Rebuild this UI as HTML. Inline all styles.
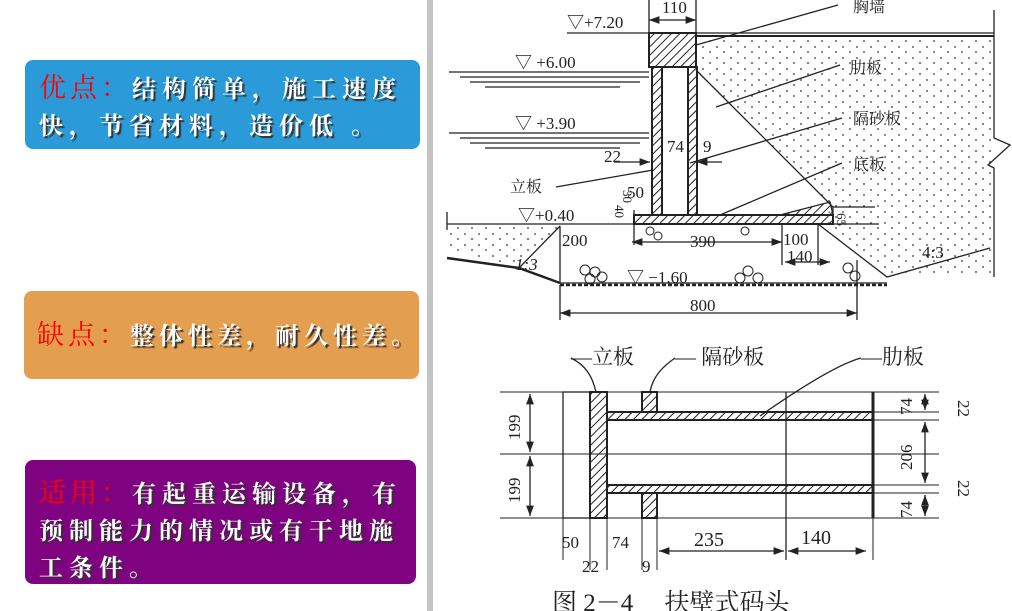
<!DOCTYPE html>
<html><head><meta charset="utf-8"><style>
html,body{margin:0;padding:0;background:#fff;width:1012px;height:611px;overflow:hidden;position:relative}
.box{position:absolute;border-radius:8px;color:#fff;font-family:"Liberation Serif","Noto Serif CJK SC",serif;font-weight:bold;font-size:24px;line-height:37px;letter-spacing:6px;text-shadow:2px 2px 1px #333;box-sizing:border-box;padding:0 0 0 14px;white-space:nowrap}
.r{color:#f00;text-shadow:none;font-size:27px;font-weight:normal;letter-spacing:4px}
#div{position:absolute;left:427px;top:0;width:6px;height:611px;background:#c4c4c4}
svg{position:absolute;left:0;top:0}
svg text{font-family:"Liberation Serif","Noto Serif CJK SC",serif;fill:#222}
</style></head><body>
<div class="box" style="left:25px;top:60px;width:395px;height:89px;background:#2a9bd8;padding-top:10px"><span class="r">优点：</span>结构简单，施工速度<br>快，节省材料，造价低 。</div>
<div class="box" style="left:24px;top:291px;width:395px;height:88px;background:#e49e50;padding-top:26px;padding-left:13px;letter-spacing:5px"><span class="r">缺点：</span>整体性差，耐久性差。</div>
<div class="box" style="left:25px;top:460px;width:391px;height:124px;background:#7f0280;padding-top:15px"><span class="r">适用：</span>有起重运输设备，有<br>预制能力的情况或有干地施<br>工条件。</div>
<div id="div"></div>
<svg width="1012" height="611" viewBox="0 0 1012 611">
<defs>
<pattern id="h" width="6" height="6" patternUnits="userSpaceOnUse" patternTransform="rotate(45)"><line x1="0" y1="0" x2="0" y2="6" stroke="#222" stroke-width="2"/></pattern>
<pattern id="d" width="14" height="11" patternUnits="userSpaceOnUse"><circle cx="3" cy="3" r="0.9" fill="#333"/><circle cx="10" cy="8" r="0.9" fill="#333"/></pattern>
<marker id="a" markerWidth="8" markerHeight="6" refX="8" refY="3" orient="auto-start-reverse"><path d="M0,0L8,3L0,6z" fill="#222"/></marker>
</defs>
<g stroke="#222" stroke-width="1.3" fill="none">
<path d="M696,36 L994,36 L994,277 L887,277 L818,224 L833,207 L696,70 Z" fill="url(#d)" stroke="none"/>
<path d="M447,226 L560,226 L519,268 L447,250 Z" fill="url(#d)" stroke="none"/>
<line x1="567" y1="33" x2="994" y2="33"/><line x1="696" y1="36" x2="994" y2="36" stroke-width="2"/>
<path d="M994,10 L994,138 L1010,145 L988,165 L994,168 L994,277"/>
<rect x="649" y="33" width="47" height="34" fill="url(#h)" stroke-width="2"/>
<rect x="652" y="67" width="10" height="148" fill="url(#h)" stroke-width="2"/>
<rect x="688" y="67" width="9" height="148" fill="url(#h)" stroke-width="2"/>
<line x1="696" y1="70" x2="833" y2="207"/>
<rect x="634" y="215" width="199" height="9" fill="url(#h)" stroke-width="2"/>
<path d="M780,215 L830,202 L833,215 Z" fill="url(#h)"/>
<path d="M447,212 L447,230 M447,224 L634,224 M833,224 L879,224 M833,207 L875,207 M833,207 L833,224"/>
<path d="M560,226 L519,268 M560,226 L560,283 L887,283 M818,224 L887,277 L990,248"/>
<path d="M447,258 L519,268 L560,283" stroke-width="2.5"/>
<path d="M560,285 L887,285" stroke-width="2.5" stroke-dasharray="4 2"/>
<path d="M449,72H649M460,77H649M470,82H640M485,87H620M449,133H649M460,138H649M470,143H640M485,148H620" stroke-width="1.2"/>
<path d="M838,5 L696,45 M840,65 L716,107 M842,118 L690,163 M842,163 L720,215 M556,187 L653,170"/>
<line x1="649" y1="20" x2="696" y2="20" marker-start="url(#a)" marker-end="url(#a)"/>
<line x1="649" y1="0" x2="649" y2="33"/><line x1="696" y1="0" x2="696" y2="33"/>
<line x1="632" y1="242" x2="782" y2="242" marker-start="url(#a)" marker-end="url(#a)"/>
<line x1="560" y1="313" x2="857" y2="313" marker-start="url(#a)" marker-end="url(#a)"/>
<line x1="560" y1="285" x2="560" y2="320"/><line x1="857" y1="260" x2="857" y2="320"/>
<line x1="782" y1="224" x2="782" y2="265"/><line x1="818" y1="224" x2="818" y2="265"/>
<line x1="785" y1="262" x2="830" y2="262" marker-start="url(#a)" marker-end="url(#a)"/>
<line x1="634" y1="210" x2="634" y2="245"/>
<line x1="614" y1="162" x2="650" y2="162" marker-end="url(#a)"/>
<line x1="697" y1="162" x2="722" y2="162" marker-start="url(#a)"/>
<g stroke-width="1"><circle cx="585" cy="270" r="5"/><circle cx="595" cy="272" r="5"/><circle cx="590" cy="279" r="5"/><circle cx="602" cy="277" r="5"/><circle cx="650" cy="231" r="4"/><circle cx="658" cy="236" r="4"/><circle cx="748" cy="271" r="5"/><circle cx="740" cy="278" r="5"/><circle cx="758" cy="278" r="5"/><circle cx="848" cy="268" r="5"/><circle cx="855" cy="276" r="5"/><circle cx="745" cy="231" r="4"/></g>
<path d="M500,392H939M500,518H939M500,454H939" stroke-width="1"/>
<rect x="563" y="392" width="27" height="126"/>
<rect x="590" y="392" width="17" height="126" fill="url(#h)" stroke-width="2"/>
<rect x="642" y="392" width="15" height="20" fill="url(#h)" stroke-width="2"/>
<rect x="642" y="493" width="15" height="25" fill="url(#h)" stroke-width="2"/>
<rect x="607" y="412" width="266" height="8" fill="url(#h)" stroke-width="2"/>
<rect x="607" y="485" width="266" height="8" fill="url(#h)" stroke-width="2"/>
<line x1="873" y1="392" x2="873" y2="518" stroke-width="3"/>
<line x1="786" y1="392" x2="786" y2="560"/>
<path d="M873,412H939M873,420H939M873,485H939M873,493H939" stroke-width="1"/>
<line x1="530" y1="394" x2="530" y2="452" marker-start="url(#a)" marker-end="url(#a)"/>
<line x1="530" y1="456" x2="530" y2="516" marker-start="url(#a)" marker-end="url(#a)"/>
<line x1="925" y1="394" x2="925" y2="410" marker-start="url(#a)" marker-end="url(#a)"/>
<line x1="925" y1="422" x2="925" y2="483" marker-start="url(#a)" marker-end="url(#a)"/>
<line x1="925" y1="495" x2="925" y2="516" marker-start="url(#a)" marker-end="url(#a)"/>
<path d="M563,518V560M590,518V570M607,518V570M642,518V570M657,518V570M873,518V560" stroke-width="1"/>
<line x1="659" y1="551" x2="784" y2="551" marker-start="url(#a)" marker-end="url(#a)"/>
<line x1="788" y1="551" x2="866" y2="551" marker-start="url(#a)" marker-end="url(#a)"/>
<path d="M571,358 C585,365 592,375 596,392 M675,358 C665,365 653,375 650,392 M861,358 C835,365 790,395 760,416"/>
</g>
<g font-size="17">
<text x="662" y="13">110</text>
<text x="567" y="28">▽+7.20</text>
<text x="515" y="68">▽ +6.00</text>
<text x="515" y="129">▽ +3.90</text>
<text x="604" y="162">22</text>
<text x="667" y="152">74</text>
<text x="703" y="152">9</text>
<text x="510" y="192" font-size="16">立板</text>
<text x="627" y="198">50</text>
<text x="518" y="221">▽+0.40</text>
<text x="562" y="246">200</text>
<text x="690" y="247">390</text>
<text x="783" y="245">100</text>
<text x="787" y="262">140</text>
<text x="515" y="270" font-style="italic">1:3</text>
<text x="627" y="283">▽ −1.60</text>
<text x="690" y="311">800</text>
<text x="922" y="258">4:3</text>
<text x="853" y="12" font-size="16">胸墙</text>
<text x="850" y="73" font-size="16">肋板</text>
<text x="853" y="124" font-size="16">隔砂板</text>
<text x="853" y="170" font-size="16">底板</text>
<text x="615" y="205" font-size="13" transform="rotate(90 615 205)">40</text>
<text x="623" y="190" font-size="13" transform="rotate(90 623 190)">30</text>
<text x="837" y="213" font-size="13" transform="rotate(90 837 213)">65</text>
<text x="571" y="364" font-size="21">—立板</text>
<text x="675" y="364" font-size="21">— 隔砂板</text>
<text x="861" y="364" font-size="21">—肋板</text>
<text x="520" y="440" transform="rotate(-90 520 440)">199</text>
<text x="520" y="503" transform="rotate(-90 520 503)">199</text>
<text x="912" y="415" transform="rotate(-90 912 415)">74</text>
<text x="912" y="470" transform="rotate(-90 912 470)">206</text>
<text x="912" y="518" transform="rotate(-90 912 518)">74</text>
<text x="958" y="400" transform="rotate(90 958 400)">22</text>
<text x="958" y="480" transform="rotate(90 958 480)">22</text>
<text x="562" y="548">50</text>
<text x="612" y="548">74</text>
<text x="694" y="546" font-size="20">235</text>
<text x="801" y="544" font-size="20">140</text>
<text x="582" y="572">22</text>
<text x="642" y="572">9</text>
<text x="552" y="611" font-size="25" fill="#333">图 2－4　 扶壁式码头</text>
</g>
</svg>
</body></html>
